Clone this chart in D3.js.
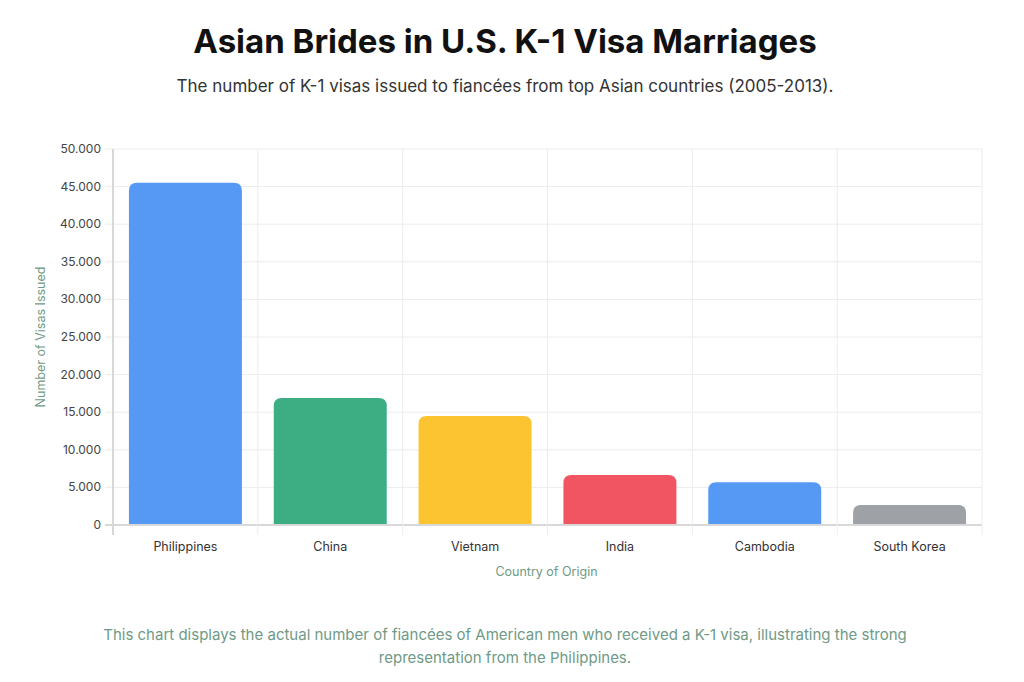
<!DOCTYPE html>
<html><head><meta charset="utf-8">
<script src="https://cdn.jsdelivr.net/npm/d3@7.9.0/dist/d3.min.js"></script>
<style>
body{margin:0;background:#fff;font-family:Inter,"Noto Sans",sans-serif;}
</style></head>
<body>
<svg width="1024" height="682"></svg>
<script>
const countries = ["Philippines", "China", "Vietnam", "India", "Cambodia", "South Korea"];
const visas = [45500, 16900, 14500, 6650, 5700, 2650];
const colors = ["#5599f5", "#3dae83", "#fdc431", "#f15562", "#5599f5", "#9ea1a6"];
const yTicks = [0, 5000, 10000, 15000, 20000, 25000, 30000, 35000, 40000, 45000, 50000];

const svg = d3.select("svg");
const margin = { top: 149, right: 42, bottom: 157, left: 113 };
const width = 1024, height = 682;

const x = d3.scaleBand().domain(countries).range([margin.left, width - margin.right]).paddingInner(0).paddingOuter(0);
const y = d3.scaleLinear().domain([0, 50000]).range([height - margin.bottom, margin.top]);

// title
svg.append("text").attr("x", 505).attr("y", 53).attr("text-anchor", "middle")
  .attr("font-size", 33).attr("font-weight", 700).attr("fill", "#111")
  .text("Asian Brides in U.S. K-1 Visa Marriages");
svg.append("text").attr("x", 505).attr("y", 92).attr("text-anchor", "middle")
  .attr("font-size", 17).attr("fill", "#333")
  .text("The number of K-1 visas issued to fiancées from top Asian countries (2005-2013).");

// grid
svg.append("g").selectAll("line").data(yTicks).join("line")
  .attr("x1", margin.left - 8).attr("x2", width - margin.right)
  .attr("y1", d => y(d)).attr("y2", d => y(d))
  .attr("stroke", d => d === 0 ? "#d8d8d8" : "#ececec").attr("stroke-width", d => d === 0 ? 2 : 1);
const bounds = countries.map(c => x(c)).concat([width - margin.right]);
svg.append("g").selectAll("line").data(bounds).join("line")
  .attr("x1", d => d).attr("x2", d => d)
  .attr("y1", margin.top).attr("y2", y(0) + 10)
  .attr("stroke", (d, i) => i === 0 ? "#d8d8d8" : "#ececec").attr("stroke-width", (d, i) => i === 0 ? 2 : 1);

// y tick labels
svg.append("g").selectAll("text").data(yTicks).join("text")
  .attr("x", margin.left - 12).attr("y", d => y(d) + 4).attr("text-anchor", "end")
  .attr("font-size", 12).attr("fill", "#444")
  .text(d => d3.format(",")(d).replace(/,/g, "."));

// bars with rounded top
const bw = x.bandwidth() * 0.78, r = 8;
svg.append("g").selectAll("path").data(countries).join("path")
  .attr("fill", (d, i) => colors[i])
  .attr("d", (d, i) => {
    const x0 = x(d) + (x.bandwidth() - bw) / 2, x1 = x0 + bw;
    const yt = y(visas[i]), yb = y(0) - 1;
    return `M${x0},${yb}V${yt + r}Q${x0},${yt} ${x0 + r},${yt}H${x1 - r}Q${x1},${yt} ${x1},${yt + r}V${yb}Z`;
  });

// x labels
svg.append("g").selectAll("text").data(countries).join("text")
  .attr("x", d => x(d) + x.bandwidth() / 2).attr("y", 551).attr("text-anchor", "middle")
  .attr("font-size", 12.5).attr("fill", "#333").text(d => d);

svg.append("text").attr("x", x.range()[0] + (x.range()[1] - x.range()[0]) / 2 - 1).attr("y", 576)
  .attr("text-anchor", "middle").attr("font-size", 12.5).attr("fill", "#6f9a86").text("Country of Origin");
svg.append("text").attr("transform", "rotate(-90)").attr("x", -337).attr("y", 45)
  .attr("text-anchor", "middle").attr("font-size", 12.5).attr("fill", "#6f9a86").text("Number of Visas Issued");

// footer
svg.append("text").attr("x", 505).attr("y", 640).attr("text-anchor", "middle")
  .attr("font-size", 15).attr("fill", "#6f9a86")
  .text("This chart displays the actual number of fiancées of American men who received a K-1 visa, illustrating the strong");
svg.append("text").attr("x", 505).attr("y", 663).attr("text-anchor", "middle")
  .attr("font-size", 15).attr("fill", "#6f9a86").text("representation from the Philippines.");
</script>
</body></html>
